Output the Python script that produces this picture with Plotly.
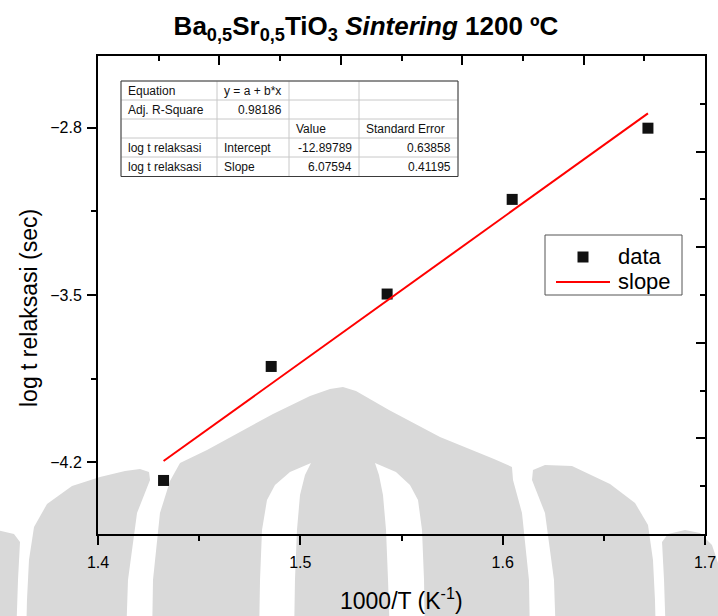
import plotly.graph_objects as go

# Measured points: 1000/T (K^-1) against log of relaxation time (s)
inv_temperature = [1.4324, 1.4856, 1.5429, 1.6047, 1.6718]
log_t_relaksasi = [-4.276, -3.799, -3.496, -3.100, -2.802]

# Linear fit y = a + b*x
intercept = -12.89789
slope = 6.07594
intercept_err = 0.63858
slope_err = 0.41195
adj_r_square = 0.98186

x_ticks = [1.4, 1.5, 1.6, 1.7]
y_ticks = [-4.2, -3.5, -2.8]

fit_x = [min(inv_temperature), max(inv_temperature)]
fit_y = [intercept + slope * x for x in fit_x]

FONT = "Arial, Liberation Sans, Helvetica, sans-serif"
W, H = 718, 616
L, R, T, B = 98, 13, 56, 82
PW, PH = W - L - R, H - T - B


def to_paper(px, py):
    return (px - L) / PW, (H - B - py) / PH


def path_of(points):
    pts = [to_paper(x, y) for x, y in points]
    return "M " + " L ".join(f"{x:.4f},{y:.4f}" for x, y in pts) + " Z"


fig = go.Figure()

fig.add_trace(go.Scatter(
    x=inv_temperature, y=log_t_relaksasi, mode="markers", name="data",
    marker=dict(symbol="square", size=11, color="#111111"), showlegend=False,
))
fig.add_trace(go.Scatter(
    x=fit_x, y=fit_y, mode="lines", name="slope",
    line=dict(color="#ff0000", width=2), showlegend=False,
))
# carriers for the extra tick axes on the top and right frame
for xa, ya in (("x2", "y2"), ("x3", "y3")):
    fig.add_trace(go.Scatter(x=[], y=[], xaxis=xa, yaxis=ya,
                             showlegend=False, hoverinfo="skip"))

shapes = []
annotations = []

# background emblem (light grey)
GREY = "#d9d9d9"
emblem_grey = [
    # left lobe
    [(26, 640), (27, 600), (29, 560), (34, 527), (47, 504), (72, 486), (100, 477),
     (125, 471), (140, 469), (149, 472), (150, 480), (137, 513), (128, 580), (126, 640)],
    # central dome
    [(152, 640), (153, 580), (160, 513), (170, 481), (180, 463), (207, 450),
     (240, 432), (273, 414), (310, 396), (330, 389), (343, 387), (356, 391),
     (389, 410), (440, 437), (494, 459), (512, 467), (513, 480), (522, 513),
     (529, 580), (530, 640)],
    # right lobe
    [(556, 640), (554, 580), (545, 513), (532, 480), (533, 470), (545, 465), (572, 466),
     (610, 484), (635, 503), (648, 525), (653, 560), (655, 600), (656, 640)],
    # outer right band
    [(666, 640), (664, 580), (662, 542), (668, 534), (685, 530), (700, 533),
     (712, 545), (722, 575), (730, 640)],
    # outer left band
    [(16, 640), (18, 580), (20, 542), (14, 534), (-3, 530), (-40, 560), (-40, 640)],
]
for poly in emblem_grey:
    shapes.append(dict(type="path", path=path_of(poly), xref="paper", yref="paper",
                       fillcolor=GREY, line=dict(width=0), layer="below"))

emblem_white = [
    [(311, 463), (290, 472), (275, 485), (267, 500), (262, 530), (260, 580),
     (259, 640), (294, 640), (295, 580), (297, 530), (300, 495), (305, 475)],
    [(375, 463), (396, 472), (410, 485), (418, 500), (422, 530), (424, 580),
     (425, 640), (390, 640), (388, 580), (386, 530), (383, 495), (379, 475)],
]
for poly in emblem_white:
    shapes.append(dict(type="path", path=path_of(poly), xref="paper", yref="paper",
                       fillcolor="white", line=dict(width=0), layer="below"))

# fit-summary table
table_rows = [
    ["Equation", "y = a + b*x", "", ""],
    ["Adj. R-Square", f"{adj_r_square:.5f}", "", ""],
    ["", "", "Value", "Standard Error"],
    ["log t relaksasi", "Intercept", f"{intercept:.5f}", f"{intercept_err:.5f}"],
    ["log t relaksasi", "Slope", f"{slope:.5f}", f"{slope_err:.5f}"],
]
col_edges = [121, 217, 289, 359, 458]
row_edges = [81, 100, 119, 138, 157, 176.5]

x0p, y0p = to_paper(col_edges[0], row_edges[-1])
x1p, y1p = to_paper(col_edges[-1], row_edges[0])
shapes.append(dict(type="rect", xref="paper", yref="paper", x0=x0p, y0=y0p,
                   x1=x1p, y1=y1p, fillcolor="white",
                   line=dict(color="#cccccc", width=1), layer="above"))
for ry in row_edges[1:-1]:
    a, b = to_paper(col_edges[0], ry)
    c, _ = to_paper(col_edges[-1], ry)
    shapes.append(dict(type="line", xref="paper", yref="paper", x0=a, y0=b, x1=c, y1=b,
                       line=dict(color="#c8c8c8", width=1), layer="above"))
for cx in col_edges[1:-1]:
    a, b = to_paper(cx, row_edges[0])
    _, d = to_paper(cx, row_edges[-1])
    shapes.append(dict(type="line", xref="paper", yref="paper", x0=a, y0=b, x1=a, y1=d,
                       line=dict(color="#c8c8c8", width=1), layer="above"))
shapes.append(dict(type="rect", xref="paper", yref="paper", x0=x0p, y0=y0p,
                   x1=x1p, y1=y1p, line=dict(color="#3a3a3a", width=1), layer="above"))


def is_number(s):
    try:
        float(s)
        return True
    except ValueError:
        return False


for i, row in enumerate(table_rows):
    yc = (row_edges[i] + row_edges[i + 1]) / 2
    for j, cell in enumerate(row):
        if not cell:
            continue
        if is_number(cell):
            px, anchor = col_edges[j + 1] - 5, "right"
        else:
            px, anchor = col_edges[j] + 5, "left"
        ax, ay = to_paper(px, yc)
        annotations.append(dict(text=cell, x=ax, y=ay, xref="paper", yref="paper",
                                xanchor=anchor, yanchor="middle", showarrow=False,
                                font=dict(family=FONT, size=12, color="#111111")))

# legend box: square marker for the data, red line for the fit
legend_names = ["data", "slope"]
lx0, lx1, ly0, ly1 = 545, 682, 235, 295
a, b = to_paper(lx0, ly1)
c, d = to_paper(lx1, ly0)
shapes.append(dict(type="rect", xref="paper", yref="paper", x0=a, y0=b, x1=c, y1=d,
                   fillcolor="white", line=dict(color="#555555", width=1), layer="above"))
a, b = to_paper(577.5, 262.5)
c, d = to_paper(588.5, 251.5)
shapes.append(dict(type="rect", xref="paper", yref="paper", x0=a, y0=b, x1=c, y1=d,
                   fillcolor="#111111", line=dict(width=0), layer="above"))
a, b = to_paper(556, 282)
c, _ = to_paper(610, 282)
shapes.append(dict(type="line", xref="paper", yref="paper", x0=a, y0=b, x1=c, y1=b,
                   line=dict(color="#ff0000", width=2), layer="above"))
for name, yc in zip(legend_names, (256, 281)):
    ax, ay = to_paper(616, yc)
    annotations.append(dict(text=name, x=ax, y=ay, xref="paper", yref="paper",
                            xanchor="left", yanchor="middle", showarrow=False,
                            font=dict(family=FONT, size=22, color="black")))

# axis titles
annotations.append(dict(text="log t relaksasi (sec)", textangle=-90,
                        x=to_paper(29, 0)[0], y=to_paper(0, 308)[1],
                        xref="paper", yref="paper", xanchor="center", yanchor="middle",
                        showarrow=False, font=dict(family=FONT, size=23, color="black")))
annotations.append(dict(text="1000/T (K<sup>-1</sup>)",
                        x=to_paper(401, 0)[0], y=to_paper(0, 599)[1],
                        xref="paper", yref="paper", xanchor="center", yanchor="middle",
                        showarrow=False, font=dict(family=FONT, size=23, color="black")))

axis_common = dict(showgrid=False, zeroline=False, showline=True, linecolor="black",
                   linewidth=2, tickcolor="black", tickwidth=2, automargin=False)


def frame_ticks(vals, length, side_ticks):
    return dict(tickvals=vals, ticks=side_ticks, ticklen=length,
                tickwidth=2, tickcolor="black")


fig.update_layout(
    template="none",
    width=W, height=H,
    margin=dict(l=L, r=R, t=T, b=B, pad=0, autoexpand=False),
    paper_bgcolor="white", plot_bgcolor="rgba(0,0,0,0)",
    font=dict(family=FONT, color="black"),
    title=dict(
        text="<b>Ba<sub>0,5</sub>Sr<sub>0,5</sub>TiO<sub>3</sub> <i>Sintering</i> 1200 ºC</b>",
        x=366 / W, xanchor="center", xref="container",
        y=1 - 26 / H, yanchor="middle", yref="container",
        font=dict(family=FONT, size=26, color="black"),
    ),
    xaxis=dict(
        range=[1.4, 1.7], tickvals=x_ticks, ticktext=[f"{v:.1f}" for v in x_ticks],
        ticks="outside", ticklen=9, ticklabelstandoff=4,
        minor=frame_ticks([1.45, 1.55, 1.65], 5, "outside"),
        tickfont=dict(family=FONT, size=16, color="black"),
        **axis_common,
    ),
    yaxis=dict(
        range=[-4.5, -2.5], tickvals=y_ticks,
        ticks="outside", ticklen=9, ticklabelstandoff=2,
        minor=frame_ticks([-3.85, -3.15], 5, "outside"),
        tickfont=dict(family=FONT, size=16, color="black"),
        **axis_common,
    ),
    # top frame: long and short inside ticks
    xaxis2=dict(overlaying="x", side="top", anchor="y", range=[1.4, 1.7],
                tickvals=[], showticklabels=False,
                minor=frame_ticks([1.46, 1.52, 1.58, 1.64], 9, "inside"),
                **axis_common),
    xaxis3=dict(overlaying="x", side="top", anchor="y", range=[1.4, 1.7],
                tickvals=[], showticklabels=False,
                minor=frame_ticks([1.43, 1.49, 1.55, 1.61, 1.67], 5, "inside"),
                **axis_common),
    # right frame: long and short inside ticks
    yaxis2=dict(overlaying="y", side="right", anchor="x", range=[-4.5, -2.5],
                tickvals=[], showticklabels=False,
                minor=frame_ticks([-4.1, -3.7, -3.3, -2.9], 9, "inside"),
                **axis_common),
    yaxis3=dict(overlaying="y", side="right", anchor="x", range=[-4.5, -2.5],
                tickvals=[], showticklabels=False,
                minor=frame_ticks([-4.3, -3.9, -3.5, -3.1, -2.7], 5, "inside"),
                **axis_common),
    shapes=shapes,
    annotations=annotations,
    showlegend=False,
)

fig.write_html("out.html")
